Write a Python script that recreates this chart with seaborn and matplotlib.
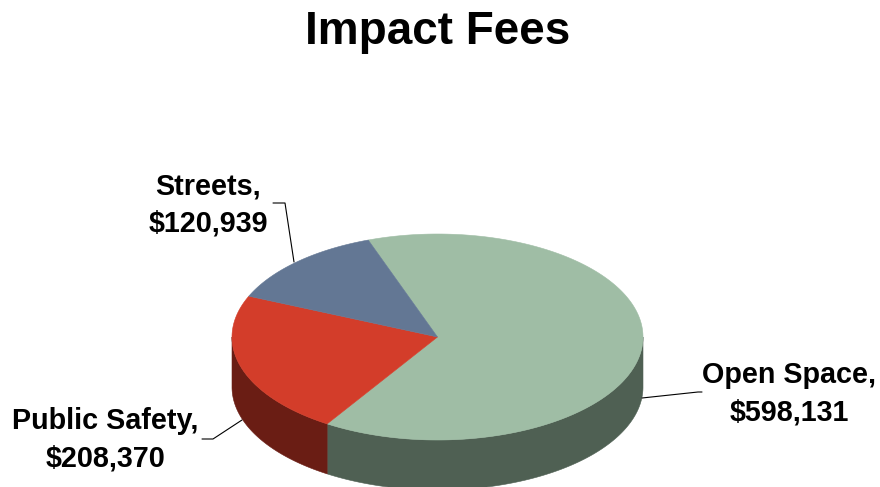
import numpy as np
import matplotlib
matplotlib.use("Agg")
import matplotlib.pyplot as plt
from matplotlib.patches import Polygon
import seaborn as sns

# Impact fee totals by category
categories = ["Open Space", "Public Safety", "Streets"]
fees = [598131, 208370, 120939]
top_colors = ["#9FBDA5", "#D33D2A", "#637794"]
side_colors = ["#4F6053", "#6A1D14", "#3E4B5E"]

sns.set_theme(style="white")
plt.rcParams["font.family"] = ["Liberation Sans", "DejaVu Sans"]

fig = plt.figure(figsize=(8.8, 4.87), dpi=100)
ax = fig.add_axes([0, 0, 1, 1])
ax.set_xlim(0, 880)
ax.set_ylim(487, 0)
ax.axis("off")

# Projected disc geometry (pixel units)
cx, cy, rx, ry, depth = 437.5, 337.0, 205.5, 103.0, 50.0
start = 109.7  # degrees, slices run clockwise


def rim(t):
    t = np.radians(t)
    return cx + rx * np.cos(t), cy - ry * np.sin(t)


fracs = np.array(fees, dtype=float) / np.sum(fees)
spans = []
a0 = start
for f in fracs:
    a1 = a0 - 360.0 * f
    spans.append((a1, a0))
    a0 = a1

# Side walls: only the front half (angles 180..360) faces the viewer
for (lo, hi), col in zip(spans, side_colors):
    for shift in (-360, 0, 360):
        s_lo, s_hi = max(lo + shift, -180), min(hi + shift, 0)
        if s_hi <= s_lo:
            continue
        t = np.linspace(s_lo, s_hi, 200)
        xs, ys = rim(t)
        pts = np.vstack([np.column_stack([xs, ys]),
                         np.column_stack([xs[::-1], ys[::-1] + depth])])
        ax.add_patch(Polygon(pts, closed=True, facecolor=col,
                             edgecolor=col, lw=0.4, zorder=1))

# Top faces
for (lo, hi), col in zip(spans, top_colors):
    t = np.linspace(lo, hi, 300)
    xs, ys = rim(t)
    pts = np.vstack([[cx, cy], np.column_stack([xs, ys])])
    ax.add_patch(Polygon(pts, closed=True, facecolor=col,
                         edgecolor=col, lw=0.4, zorder=2))

ax.text(437.5, 32, "Impact Fees", ha="center", va="center",
        fontsize=33, fontweight="bold", color="black")

label_style = dict(ha="center", va="center", fontsize=20.7,
                   fontweight="bold", color="black", linespacing=1.45)
label_pos = {"Open Space": (789, 394), "Public Safety": (105, 440),
             "Streets": (208, 205)}
leaders = {
    "Open Space": [(642, 398), (698, 392), (702, 392)],
    "Public Safety": [(242, 420), (213, 439), (202, 439)],
    "Streets": [(294, 262), (285, 203), (273, 203)],
}
for name, val in zip(categories, fees):
    x, y = label_pos[name]
    ax.text(x, y, f"{name},\n${val:,.0f}", **label_style, zorder=4)
    lx, ly = zip(*leaders[name])
    ax.plot(lx, ly, color="black", lw=0.8, zorder=3)

fig.savefig("out.png", dpi=100)
